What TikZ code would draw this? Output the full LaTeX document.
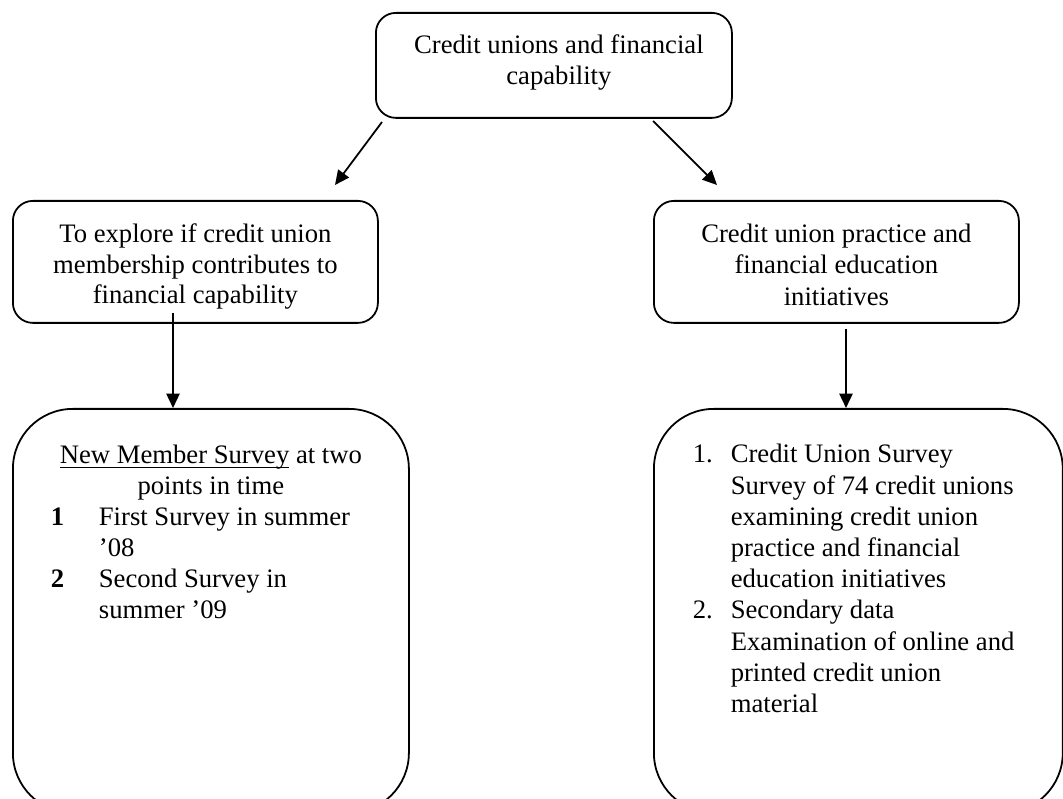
\documentclass[tikz,border=0pt]{standalone}
\usepackage{fontspec}
\setmainfont{Liberation Serif}
\usetikzlibrary{arrows.meta}

\begin{document}
\begin{tikzpicture}[x=0.45pt, y=-0.45pt, line width=0.8pt,
    font=\fontsize{12pt}{13.6pt}\selectfont,
    >={Triangle[length=6.5pt,width=6pt]},
    smallbox/.style={draw, rounded corners=9pt, inner sep=0pt, anchor=north west},
    bigbox/.style={draw, rounded corners=27pt, inner sep=0pt, anchor=north west}]
    \clip (0,0) rectangle (1063,799);
    % Nodes
    \node[smallbox] (T) at (375,12) {\parbox[t][47.25pt][t]{160.2pt}{\centering\leftskip=4.5pt plus 1fil
        \rule{0pt}{18.45pt}Credit unions and financial\\
        capability}};
    \node[smallbox] (L) at (12,200) {\parbox[t][54.9pt][t]{164.25pt}{\centering
        \rule{0pt}{18.9pt}To explore if credit union\\
        membership contributes to\\
        financial capability}};
    \node[smallbox] (R) at (653,200) {\parbox[t][54.9pt][t]{164.25pt}{\centering\baselineskip=14pt
        \rule{0pt}{18.9pt}Credit union practice and\\
        financial education\\
        initiatives}};
    \node[bigbox] (LS) at (12,408) {\parbox[t][181.8pt][t]{178.2pt}{\centering\baselineskip=13.9pt
        \rule{0pt}{24.75pt}\underline{\smash{New Member Survey}} at two\\
        points in time\par
        \raggedright
        \hspace*{17.1pt}\makebox[21.6pt][l]{\textbf{1}}First Survey in summer\\
        \hspace*{38.7pt}’08\\
        \hspace*{17.1pt}\makebox[21.6pt][l]{\textbf{2}}Second Survey in\\
        \hspace*{38.7pt}summer ’09}};
    \node[bigbox] (RS) at (653,408) {\parbox[t][181.8pt][t]{184pt}{\raggedright\baselineskip=14.05pt
        \rule{0pt}{24.3pt}\hspace*{17.5pt}\makebox[17.1pt][l]{1.}Credit Union Survey\\
        \hspace*{34.6pt}Survey of 74 credit unions\\
        \hspace*{34.6pt}examining credit union\\
        \hspace*{34.6pt}practice and financial\\
        \hspace*{34.6pt}education initiatives\\
        \hspace*{17.5pt}\makebox[17.1pt][l]{2.}Secondary data\\
        \hspace*{34.6pt}Examination of online and\\
        \hspace*{34.6pt}printed credit union\\
        \hspace*{34.6pt}material}};
    % Arrows
    \coordinate (t1) at (382,122);
    \coordinate (t2) at (335,185);
    \coordinate (t3) at (653,121);
    \coordinate (t4) at (717,185);
    \coordinate (l1) at (173,313);
    \coordinate (r1) at (846,329);
    \draw[->] (t1) -- (t2);
    \draw[->] (t3) -- (t4);
    \draw[->] (l1) -- (LS.north -| l1);
    \draw[->] (r1) -- (RS.north -| r1);
\end{tikzpicture}
\end{document}
